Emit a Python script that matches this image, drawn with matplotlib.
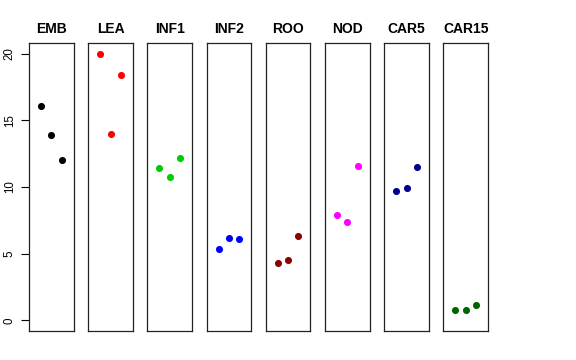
import matplotlib
matplotlib.use("Agg")
import matplotlib.pyplot as plt

# panel names, colours and the three values in each panel
groups = ["EMB", "LEA", "INF1", "INF2", "ROO", "NOD", "CAR5", "CAR15"]
colors = ["black", "red", "#00CD00", "blue", "#8B0000", "magenta", "#00008B", "#006400"]
values = [
    [16.1, 13.9, 12.05],
    [20.0, 14.0, 18.4],
    [11.45, 10.75, 12.15],
    [5.35, 6.2, 6.1],
    [4.3, 4.55, 6.35],
    [7.9, 7.35, 11.55],
    [9.7, 9.95, 11.5],
    [0.8, 0.75, 1.13],
]
xpos = [1, 2, 3]
yticks = [0, 5, 10, 15, 20]

plt.rcParams["font.family"] = ["Liberation Sans", "DejaVu Sans"]

W, H = 576, 360
fig = plt.figure(figsize=(W / 100, H / 100), dpi=100)

left0, step, width = 29, 59.2, 44.6   # pixels
top, bottom = 43, 331

for i, (name, col, vals) in enumerate(zip(groups, colors, values)):
    x0 = left0 + i * step
    ax = fig.add_axes([x0 / W, 1 - bottom / H, width / W, (bottom - top) / H])
    ax.scatter(xpos, vals, s=26, color=col, zorder=3, linewidths=0)
    ax.set_xlim(-0.16, 4.16)
    ax.set_ylim(-0.8, 20.8)
    ax.set_xticks([])
    ax.set_title(name, fontsize=10, fontweight="bold", pad=7)
    for sp in ax.spines.values():
        sp.set_linewidth(0.9)
        sp.set_color("#222222")
    if i == 0:
        ax.set_yticks(yticks)
        ax.set_yticklabels([str(t) for t in yticks], rotation=90, va="center")
        ax.tick_params(axis="y", length=5.5, width=0.8, pad=4, labelsize=8.3)
    else:
        ax.set_yticks([])

fig.savefig("out.png", dpi=100)
